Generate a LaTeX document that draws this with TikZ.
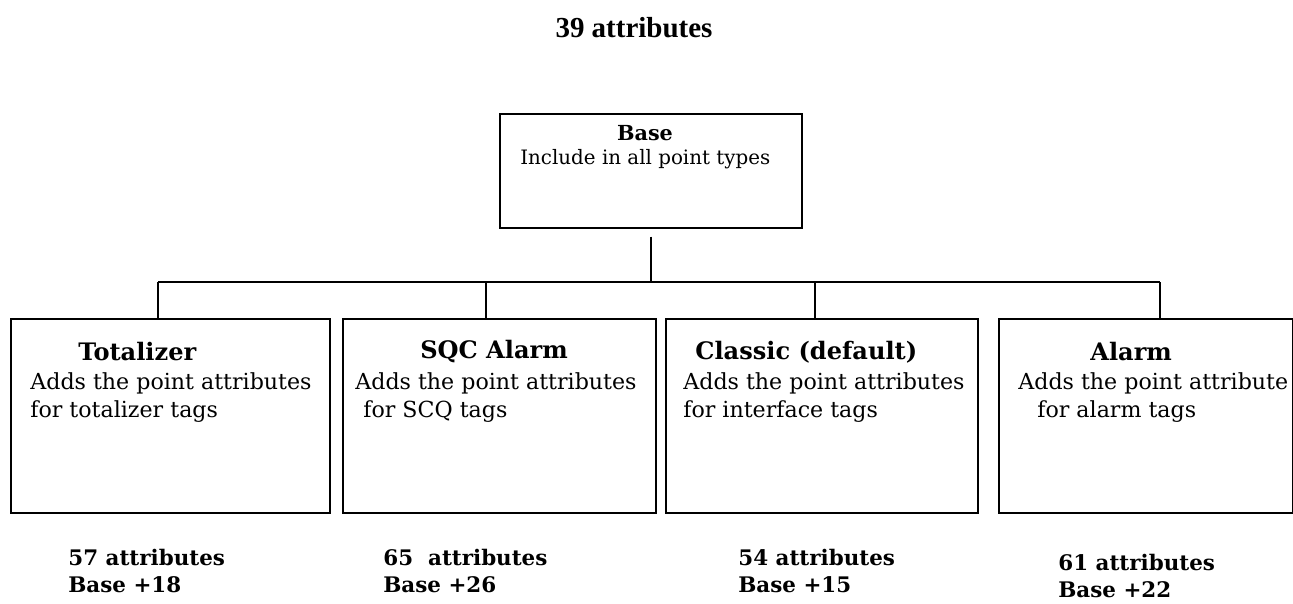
\documentclass[tikz,border=0pt]{standalone}
\usepackage{fontspec}
\setmainfont{DejaVu Serif}
\newfontfamily\timesfont{Liberation Serif}
\usetikzlibrary{calc}
\tikzset{box/.style={rectangle, draw, line width=.9pt, anchor=north west, inner sep=0pt}}
\tikzset{head/.style={font=\fontsize{13.7}{16}\selectfont\bfseries, inner sep=0pt}}
\tikzset{body/.style={font=\fontsize{12.6}{15}\selectfont, anchor=west, inner sep=0pt}}
\tikzset{count/.style={font=\fontsize{12.2}{15}\selectfont\bfseries, anchor=west, inner sep=0pt}}
\tikzset{link/.style={line width=.9pt}}

\begin{document}
\begin{tikzpicture}[x=0.02cm, y=-0.02cm]
      \useasboundingbox (0,0) rectangle (1293,603);
      \node[font=\timesfont\fontsize{16.5}{19}\selectfont\bfseries] (total) at (634,28) {39 attributes};
      % boxes
      \node[box, minimum width=6.04cm, minimum height=2.28cm] (base) at (499,113) {};
      \node[box, minimum width=6.38cm, minimum height=3.88cm] (tot) at (10,318) {};
      \node[box, minimum width=6.26cm, minimum height=3.88cm] (sqc) at (342,318) {};
      \node[box, minimum width=6.24cm, minimum height=3.88cm] (cls) at (665,318) {};
      \node[box, minimum width=5.88cm, minimum height=3.88cm] (alm) at (998,318) {};
      % box texts
      \node[head, font=\fontsize{11.8}{14}\selectfont\bfseries] (baset) at (645,133) {Base};
      \node[body, font=\fontsize{11.3}{14}\selectfont] (based) at (520,159) {Include in all point types};
      \node[head, anchor=west] (tott) at (78,352) {Totalizer};
      \node[body] (totd1) at (30,383) {Adds the point attributes};
      \node[body] (totd2) at (30,412) {for totalizer tags};
      \node[head, anchor=west] (sqct) at (420,352) {SQC Alarm};
      \node[body] (sqcd1) at (355,383) {Adds the point attributes};
      \node[body] (sqcd2) at (363,412) {for SCQ tags};
      \node[head, anchor=west] (clst) at (695,352) {Classic (default)};
      \node[body] (clsd1) at (683,383) {Adds the point attributes};
      \node[body] (clsd2) at (683,412) {for interface tags};
      \node[head, anchor=west] (almt) at (1090,352) {Alarm};
      \node[body] (almd1) at (1018,383) {Adds the point attribute};
      \node[body] (almd2) at (1037,412) {for alarm tags};
      % counts
      \node[count] (totc1) at (68,557) {57 attributes};
      \node[count] (totc2) at (68,585) {Base +18};
      \node[count] (sqcc1) at (383,557) {65~ attributes};
      \node[count] (sqcc2) at (383,585) {Base +26};
      \node[count] (clsc1) at (738,557) {54 attributes};
      \node[count] (clsc2) at (738,585) {Base +15};
      \node[count] (almc1) at (1058,562) {61 attributes};
      \node[count] (almc2) at (1058,590) {Base +22};
      % tree
      \coordinate (fork) at (651,282);
      \coordinate (jt) at (158,282);
      \coordinate (js) at (486,282);
      \coordinate (jc) at (815,282);
      \coordinate (ja) at (1160,282);
      \draw[link] ([yshift=-8*0.02cm]base.south -| fork) -- (fork);
      \draw[link] (jt) -- (ja);
      \draw[link] (jt) -- (jt |- tot.north)
      (js) -- (js |- sqc.north)
      (jc) -- (jc |- cls.north)
      (ja) -- (ja |- alm.north);
    \end{tikzpicture}
\end{document}
